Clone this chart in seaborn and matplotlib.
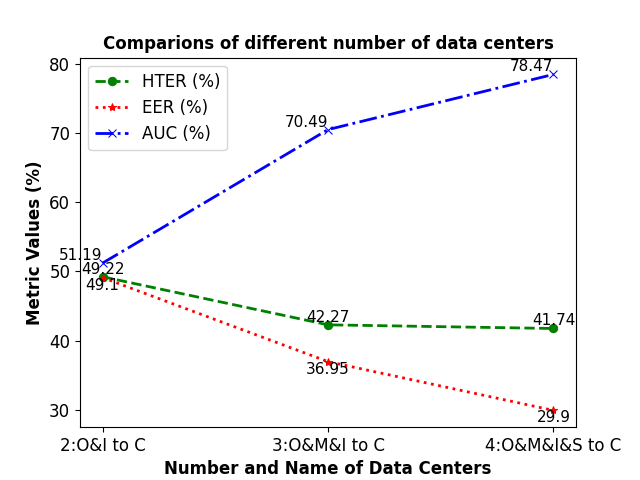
import matplotlib
matplotlib.use("Agg")
import matplotlib.pyplot as plt
import pandas as pd
import seaborn as sns

centers = ["2:O&I to C", "3:O&M&I to C", "4:O&M&I&S to C"]
hter = [49.22, 42.27, 41.74]
eer = [49.1, 36.95, 29.9]
auc = [51.19, 70.49, 78.47]

series = [
    ("HTER (%)", hter, "green", "--", "o", "center", "bottom"),
    ("EER (%)", eer, "red", ":", "*", "center", "top"),
    ("AUC (%)", auc, "blue", "-.", "x", "right", "bottom"),
]

fig, ax = plt.subplots(figsize=(6.4, 4.8), dpi=100)

for name, vals, color, ls, marker, ha, va in series:
    df = pd.DataFrame({"pos": range(len(centers)), "value": vals})
    sns.lineplot(data=df, x="pos", y="value", ax=ax, color=color,
                 linestyle=ls, marker=marker, linewidth=2, markersize=6,
                 markeredgecolor=color, label=name)
    for i, v in enumerate(vals):
        ax.text(i, v, str(v), ha=ha, va=va, fontsize=11)

ax.set_xticks(range(len(centers)))
ax.set_xticklabels(centers, fontsize=12)
ax.tick_params(axis="y", labelsize=12)
ax.set_xlabel("Number and Name of Data Centers", fontsize=12, fontweight="bold")
ax.set_ylabel("Metric Values (%)", fontsize=12, fontweight="bold")
ax.set_title("Comparions of different number of data centers", fontsize=12,
             fontweight="bold")
ax.legend(loc="upper left", fontsize=12)

fig.savefig("out.png")
